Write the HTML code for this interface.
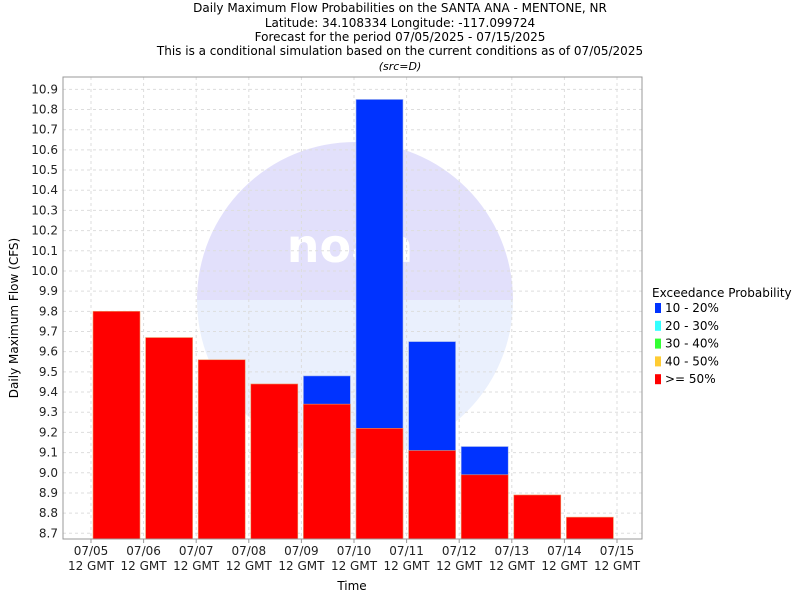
<!DOCTYPE html>
<html><head><meta charset="utf-8"><style>
body{margin:0;background:#fff;font-family:"DejaVu Sans","Liberation Sans",sans-serif;}
svg text{font-family:"DejaVu Sans","Liberation Sans",sans-serif;}
</style></head><body>
<svg id="chart" width="800" height="600" xmlns="http://www.w3.org/2000/svg">
<g font-size="12" fill="#000" text-anchor="middle">
<text x="400" y="12">Daily Maximum Flow Probabilities on the SANTA ANA - MENTONE, NR</text>
<text x="400" y="27">Latitude: 34.108334 Longitude: -117.099724</text>
<text x="400" y="41">Forecast for the period 07/05/2025 - 07/15/2025</text>
<text x="400" y="55">This is a conditional simulation based on the current conditions as of 07/05/2025</text>
<text x="400" y="70" font-style="italic" font-size="11">(src=D)</text>
</g>
<g>
<path d="M197,300 A158,158 0 0 1 513,300 Z" fill="#e2e0fb"/>
<path d="M197,300 A158,158 0 0 0 513,300 Z" fill="#eaf0fd"/>
<text x="350" y="262" font-size="46" font-weight="bold" fill="#fff" text-anchor="middle">noaa</text>
</g>
<g id="grid"></g>
<g id="bars"></g>
<rect x="63" y="77" width="579" height="462" fill="none" stroke="#999"/>
<g id="yticks" font-size="12" fill="#222" text-anchor="end"></g>
<g id="xticks" font-size="12" fill="#222" text-anchor="middle"></g>
<text x="18" y="318" font-size="12" text-anchor="middle" transform="rotate(-90 18 318)">Daily Maximum Flow (CFS)</text>
<text x="352" y="590" font-size="12" text-anchor="middle">Time</text>
<g id="legend" font-size="12">
<text x="652" y="297">Exceedance Probability</text>
</g>
</svg>
<script>
const categories=["07/05","07/06","07/07","07/08","07/09","07/10","07/11","07/12","07/13","07/14","07/15"];
const redValues=[9.80,9.67,9.56,9.44,9.34,9.22,9.11,8.99,8.89,8.78];
const blueValues=[null,null,null,null,9.48,10.85,9.65,9.13,null,null];
const yTicks=[8.7,8.8,8.9,9.0,9.1,9.2,9.3,9.4,9.5,9.6,9.7,9.8,9.9,10.0,10.1,10.2,10.3,10.4,10.5,10.6,10.7,10.8,10.9];
const legendLabels=["10 - 20%","20 - 30%","30 - 40%","40 - 50%",">= 50%"];
const legendColors=["#0033ff","#33ffff","#33ff33","#ffcc33","#ff0000"];
const NS="http://www.w3.org/2000/svg";
function y(v){return 533.3-(v-8.7)*201.8;}
function x(i){return 91+i*52.6;}
function mk(t,a,p){const e=document.createElementNS(NS,t);for(const k in a)e.setAttribute(k,a[k]);p.appendChild(e);return e;}
const grid=document.getElementById('grid'),bars=document.getElementById('bars');
yTicks.forEach(v=>{
 const l=mk('line',{x1:63,x2:642,y1:y(v),y2:y(v),stroke:'#ddd','stroke-dasharray':'3,3'},grid);
 
 
 const t=mk('text',{x:58,y:y(v)+4},document.getElementById('yticks'));
 t.textContent=v.toFixed(1);
 
 
});
categories.forEach((c,i)=>{
 const l=mk('line',{x1:x(i),x2:x(i),y1:77,y2:539,stroke:'#ddd','stroke-dasharray':'3,3'},grid);
 
 
 const g=document.getElementById('xticks');
 mk('line',{x1:x(i),x2:x(i),y1:539,y2:543,stroke:'#999'},g);
 const t=mk('text',{x:x(i),y:555},g);t.textContent=c;
 
 
 const t2=mk('text',{x:x(i),y:570},g);t2.textContent="12 GMT";
 
 
});
redValues.forEach((v,i)=>{
 const bx=x(i)+2,bw=47;
 const b=blueValues[i];
 if(b!=null){
  const r=mk('rect',{x:bx,y:y(b),width:bw,height:539-y(b),fill:'#0033ff',stroke:'#aabbee','stroke-width':0.6},bars);
  
  
 }
 const r=mk('rect',{x:bx,y:y(v),width:bw,height:539-y(v),fill:'#ff0000',stroke:'#ee9966','stroke-width':0.6},bars);
 
 
});
const lg=document.getElementById('legend');
legendLabels.forEach((s,i)=>{
 const cy=308+i*17.8;
 const r=mk('rect',{x:655,y:cy-5,width:6,height:10,fill:legendColors[i]},lg);
 
 
 const t=mk('text',{x:665,y:cy+4},lg);t.textContent=s;
 
 
});
</script>
</body></html>
